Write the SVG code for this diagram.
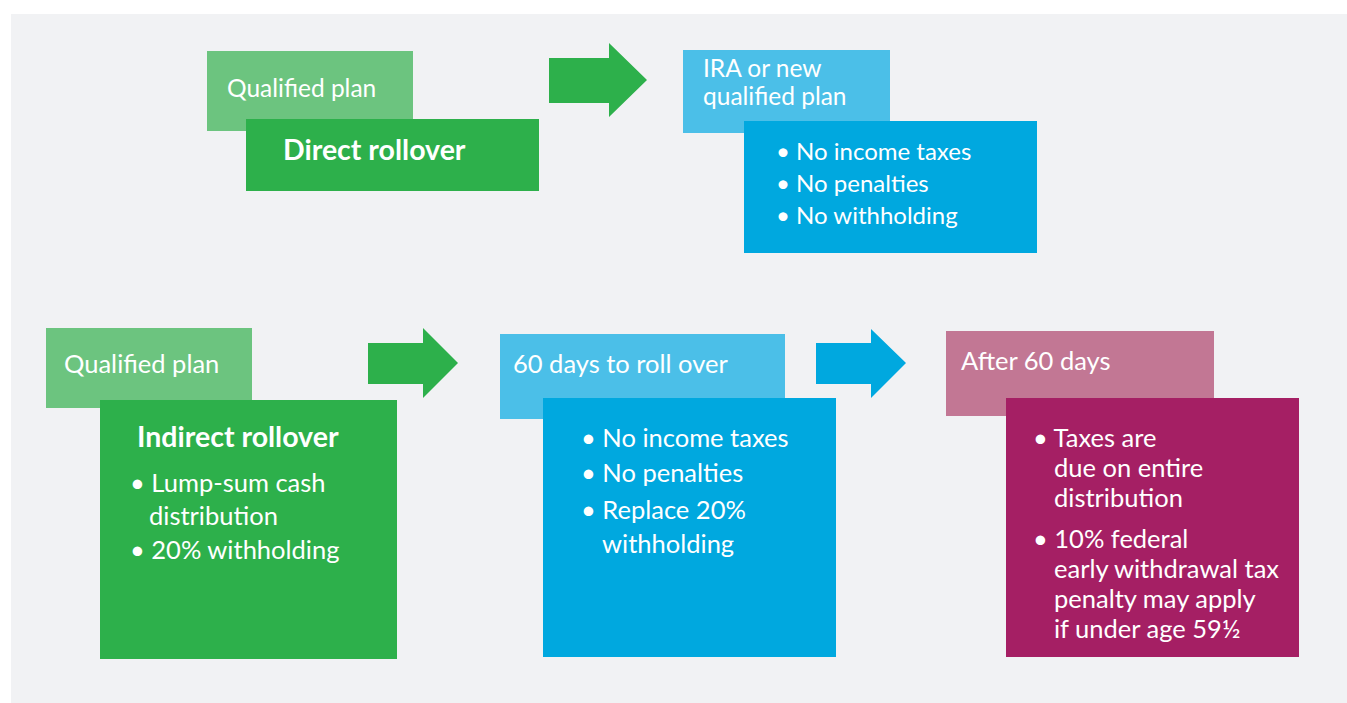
<svg xmlns="http://www.w3.org/2000/svg" width="1347" height="703" viewBox="0 0 1347 703">
  <style>
    .t { font-family: Lato, "Noto Sans", "Liberation Sans", sans-serif; fill: #ffffff; font-size: 25.5px; }
    .b { font-weight: 700; font-size: 28.5px; }
    .hd { font-size: 24.5px; }
    .sm { font-size: 24px; }
    .g1 { fill: #6cc47f; }
    .g2 { fill: #2db04b; }
    .c1 { fill: #4bbfe8; }
    .c2 { fill: #00a8df; }
    .m1 { fill: #c27794; }
    .m2 { fill: #a51f64; }
  </style>

  <rect x="11" y="14" width="1336" height="689" fill="#f1f2f4"/>

  <!-- flow arrows -->
  <g id="connectors">
    <polygon class="g2" points="549,58 609,58 609,43 647,80 609,117 609,103 549,103"/>
    <polygon class="g2" points="368,343 423,343 423,328 458,363 423,398 423,384 368,384"/>
    <polygon class="c2" points="816,343 871,343 871,329 906,363 871,398 871,384 816,384"/>
  </g>

  <!-- top row: direct rollover -->
  <g id="direct-source">
    <rect class="g1" x="207" y="51" width="206" height="80"/>
    <text class="t hd" x="227" y="97">Qualified plan</text>
  </g>
  <g id="direct-rollover">
    <rect class="g2" x="246" y="119" width="293" height="72"/>
    <text class="t b" x="283" y="160">Direct rollover</text>
  </g>
  <g id="ira-target">
    <rect class="c1" x="683" y="50" width="207" height="83"/>
    <text class="t hd" x="703" y="77">IRA or new</text>
    <text class="t hd" x="703" y="105">qualified plan</text>
  </g>
  <g id="direct-result">
    <rect class="c2" x="744" y="121" width="293" height="132"/>
    <text class="t sm" x="776" y="160">• No income taxes</text>
    <text class="t sm" x="776" y="192">• No penalties</text>
    <text class="t sm" x="776" y="224">• No withholding</text>
  </g>

  <!-- bottom row: indirect rollover -->
  <g id="indirect-source">
    <rect class="g1" x="46" y="328" width="206" height="80"/>
    <text class="t" x="64" y="373">Qualified plan</text>
  </g>
  <g id="indirect-rollover">
    <rect class="g2" x="100" y="400" width="297" height="259"/>
    <text class="t b" x="137" y="447">Indirect rollover</text>
    <text class="t" x="130" y="492">• Lump-sum cash</text>
    <text class="t" x="149" y="525">distribution</text>
    <text class="t" x="130" y="559">• 20% withholding</text>
  </g>
  <g id="sixty-days">
    <rect class="c1" x="500" y="334" width="285" height="85"/>
    <text class="t" x="513" y="373">60 days to roll over</text>
  </g>
  <g id="sixty-days-result">
    <rect class="c2" x="543" y="398" width="293" height="259"/>
    <text class="t" x="581" y="447">• No income taxes</text>
    <text class="t" x="581" y="482">• No penalties</text>
    <text class="t" x="581" y="519">• Replace 20%</text>
    <text class="t" x="602" y="553">withholding</text>
  </g>
  <g id="after-sixty">
    <rect class="m1" x="946" y="331" width="268" height="85"/>
    <text class="t" x="961" y="370">After 60 days</text>
  </g>
  <g id="after-sixty-result">
    <rect class="m2" x="1006" y="398" width="293" height="259"/>
    <text class="t" x="1033" y="447">• Taxes are</text>
    <text class="t" x="1054" y="477">due on entire</text>
    <text class="t" x="1054" y="507">distribution</text>
    <text class="t" x="1033" y="548">• 10% federal</text>
    <text class="t" x="1054" y="578">early withdrawal tax</text>
    <text class="t" x="1054" y="608">penalty may apply</text>
    <text class="t" x="1054" y="638">if under age 59½</text>
  </g>
</svg>
